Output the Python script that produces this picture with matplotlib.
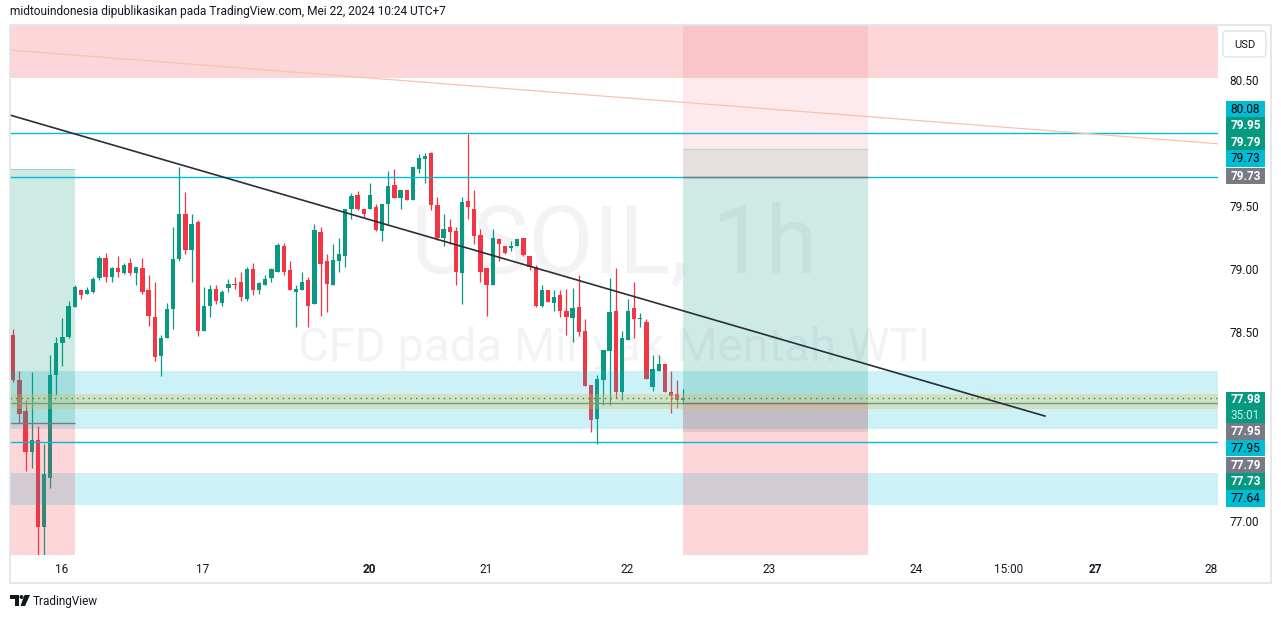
import matplotlib
matplotlib.use('Agg')
import matplotlib.pyplot as plt
import matplotlib.transforms as mtransforms
from matplotlib.patches import Rectangle, FancyBboxPatch, Polygon, Circle
import numpy as np

plt.rcParams['font.family'] = ['Roboto', 'DejaVu Sans']

# USOIL 1h candles
opens = [78.48, 78.12, 77.87, 77.55, 77.64, 76.95, 77.34, 78.16, 78.41, 78.46,
         78.70, 78.83, 78.80, 78.82, 78.93, 79.09, 78.94, 79.01, 78.97, 79.05,
         78.97, 79.01, 78.83, 78.62, 78.31, 78.45, 78.68, 79.08, 79.44, 79.15,
         79.37, 78.51, 78.71, 78.84, 78.73, 78.85, 78.88, 78.90, 78.76, 79.00,
         78.83, 78.87, 78.93, 78.98, 79.18, 78.99, 78.82, 78.83, 78.91, 78.72,
         79.29, 79.06, 78.87, 79.06, 79.10, 79.48, 79.59, 79.48, 79.48, 79.49,
         79.30, 79.52, 79.67, 79.56, 79.63, 79.55, 79.79, 79.87, 79.92, 79.51,
         79.25, 79.33, 79.30, 78.97, 79.54, 79.48, 79.27, 79.01, 78.87, 79.24,
         79.18, 79.17, 79.18, 79.25, 79.10, 79.02, 78.71, 78.83, 78.73, 78.79,
         78.67, 78.61, 78.70, 78.51, 78.08, 77.81, 78.12, 78.35, 78.67, 78.02,
         78.44, 78.69, 78.60, 78.58, 78.06, 78.19, 78.25, 78.02, 78.01, 77.96]
highs = [78.52, 78.19, 77.96, 78.18, 77.75, 77.61, 78.32, 78.46, 78.61, 78.75,
         78.87, 78.83, 78.86, 78.94, 79.10, 79.13, 79.02, 79.10, 79.05, 79.09,
         79.02, 79.09, 78.95, 78.90, 78.48, 78.73, 79.33, 79.81, 79.61, 79.44,
         79.39, 78.86, 78.87, 78.87, 78.83, 78.92, 78.94, 78.98, 79.02, 79.05,
         78.90, 78.95, 79.01, 79.21, 79.21, 79.06, 78.87, 78.98, 78.94, 79.36,
         79.33, 79.12, 79.20, 79.25, 79.48, 79.60, 79.62, 79.48, 79.68, 79.52,
         79.52, 79.78, 79.79, 79.63, 79.63, 79.81, 79.91, 79.92, 79.93, 79.57,
         79.44, 79.40, 79.33, 79.57, 80.07, 79.63, 79.32, 79.01, 79.32, 79.25,
         79.18, 79.22, 79.24, 79.25, 79.10, 79.03, 78.87, 78.83, 78.83, 78.83,
         78.84, 78.85, 78.95, 78.60, 78.08, 78.16, 78.36, 78.93, 79.01, 78.51,
         78.76, 78.90, 78.65, 78.60, 78.32, 78.32, 78.25, 78.19, 78.12, 78.05]
lows = [78.10, 77.78, 77.40, 77.42, 76.70, 76.70, 77.26, 78.00, 78.23, 78.45,
        78.70, 78.76, 78.80, 78.81, 78.91, 78.90, 78.90, 78.94, 78.96, 78.95,
        78.87, 78.80, 78.55, 78.27, 78.15, 78.45, 78.52, 79.06, 79.12, 78.90,
        78.47, 78.51, 78.62, 78.72, 78.71, 78.82, 78.84, 78.75, 78.75, 78.79,
        78.80, 78.87, 78.90, 78.98, 78.95, 78.83, 78.54, 78.83, 78.54, 78.72,
        78.63, 78.66, 78.87, 78.98, 79.02, 79.40, 79.47, 79.41, 79.48, 79.30,
        79.22, 79.36, 79.56, 79.48, 79.55, 79.55, 79.76, 79.68, 79.47, 79.23,
        79.18, 79.20, 78.87, 78.72, 79.40, 79.20, 78.90, 78.63, 78.87, 79.06,
        79.12, 79.14, 79.18, 79.10, 78.99, 78.70, 78.70, 78.74, 78.67, 78.62,
        78.48, 78.42, 78.47, 78.07, 77.71, 77.61, 77.92, 77.92, 77.98, 77.96,
        78.44, 78.45, 78.54, 78.13, 78.03, 78.19, 78.02, 77.86, 77.90, 77.93]
closes = [78.12, 77.85, 77.55, 77.64, 76.95, 77.37, 78.16, 78.41, 78.46, 78.71,
          78.86, 78.79, 78.83, 78.92, 79.09, 78.94, 79.01, 78.98, 79.03, 78.97,
          79.02, 78.82, 78.63, 78.30, 78.45, 78.68, 79.08, 79.44, 79.15, 79.36,
          78.51, 78.71, 78.84, 78.75, 78.82, 78.88, 78.87, 78.78, 79.00, 78.83,
          78.89, 78.92, 79.00, 79.19, 78.98, 78.83, 78.84, 78.90, 78.71, 79.31,
          79.04, 78.88, 79.07, 79.12, 79.48, 79.58, 79.48, 79.44, 79.59, 79.31,
          79.52, 79.66, 79.56, 79.63, 79.55, 79.81, 79.88, 79.90, 79.51, 79.25,
          79.32, 79.29, 78.98, 79.53, 79.49, 79.26, 78.98, 78.87, 79.25, 79.20,
          79.13, 79.18, 79.24, 79.11, 79.02, 78.71, 78.83, 78.74, 78.78, 78.67,
          78.62, 78.69, 78.50, 78.07, 77.80, 78.13, 78.36, 78.66, 78.02, 78.45,
          78.67, 78.60, 78.60, 78.13, 78.21, 78.25, 78.02, 77.99, 77.96, 77.98]

# time axis (bar index positions of the day labels)
tick_pos = [7.92, 30.86, 57.87, 76.9, 99.8, 122.9, 146.8, 161.98, 176.0, 194.8]
tick_labels = ['16', '17', '20', '21', '22', '23', '24', '15:00', '27', '28']
bold_ticks = ['20', '27']
price_ticks = [77.0, 78.5, 79.0, 79.5, 80.5]

# drawings
cyan_lines = [80.08, 79.73, 77.63]
entry_line = 77.94
last_price = 77.98
cyan_zones = [(77.73, 78.19), (77.13, 77.38)]
beige_zone = (77.89, 78.01)
top_zone = (80.52, 81.2)
trend_x = [-0.54, 167.84]
trend_y = [80.222, 77.833]
fan_x = [-0.54, 196.0]
fan_y = [80.738, 79.994]
# left long position: x range, target, entry
left_pos = (-0.54, 10.0, 79.79, 77.78)
# right position box: x range and levels (top stop, entry, bottom, grey band)
right_pos = (108.95, 139.04, 79.95, 79.73, 77.94, 77.71)

# price-scale labels: text, centre price, style
scale_labels = ['80.08', '79.95', '79.79', '79.73', '79.73',
                '77.95', '77.95', '77.79', '77.73', '77.64']
scale_pos = [80.266, 80.137, 80.008, 79.875, 79.737,
             77.712, 77.579, 77.444, 77.312, 77.180]
scale_kind = ['cyan', 'green', 'green', 'cyan', 'grey',
              'grey', 'cyan', 'grey', 'green', 'cyan']

GREEN = '#089981'
RED = '#f23645'
CYAN = '#00bcd4'
GREY = '#787b86'
TXT = '#131722'

W, H = 1281, 619
fig = plt.figure(figsize=(W / 100, H / 100), dpi=100)
ax = fig.add_axes([10 / W, (H - 555) / H, 1208 / W, 530 / H])
ax.set_xlim(-0.54, 196.0)
ax.set_ylim(76.73, 80.937)
for s in ax.spines.values():
    s.set_visible(False)

# watermark
ax.text(0.5, 0.583, 'USOIL, 1h', transform=ax.transAxes, fontsize=68,
        color='#f3f3f5', ha='center', va='center', zorder=1)
ax.text(0.5, 0.39, 'CFD pada Minyak Mentah WTI', transform=ax.transAxes,
        fontsize=34, color='#f3f3f5', ha='center', va='center', zorder=1)

# candles
o = np.array(opens)
h = np.array(highs)
l = np.array(lows)
c = np.array(closes)
idx = np.arange(len(o))
cols = np.where(c >= o, GREEN, RED)
ax.vlines(idx, l, h, colors=cols, lw=0.9, zorder=2)
ax.bar(idx, np.maximum(np.abs(c - o), 0.008), bottom=np.minimum(o, c),
       width=0.7, color=cols, linewidth=0, zorder=3)

# zones
ax.axhspan(top_zone[0], top_zone[1], color=RED, alpha=0.2, lw=0, zorder=4)
for lo, hi in cyan_zones:
    ax.axhspan(lo, hi, color=CYAN, alpha=0.2, lw=0, zorder=4)

# left position
x0, x1, tgt, ent = left_pos
ax.add_patch(Rectangle((x0, ent), x1 - x0, tgt - ent, color=GREEN, alpha=0.2, lw=0, zorder=5))
ax.add_patch(Rectangle((x0, 76.5), x1 - x0, ent - 76.5, color=RED, alpha=0.2, lw=0, zorder=5))
ax.hlines(ent, x0, x1, color=GREY, lw=1, zorder=7)
ax.hlines(tgt, x0, x1, color=GREEN, lw=0.6, alpha=0.3, zorder=7)

# right position
rx0, rx1, stop, r_ent, r_mid, r_low = right_pos
ax.add_patch(Rectangle((rx0, r_ent), rx1 - rx0, 81.5 - r_ent, color=RED, alpha=0.1, lw=0, zorder=5))
ax.add_patch(Rectangle((rx0, r_ent), rx1 - rx0, stop - r_ent, color='#e5e0de', lw=0, zorder=5))
ax.add_patch(Rectangle((rx0, r_mid), rx1 - rx0, r_ent - r_mid, color=GREEN, alpha=0.2, lw=0, zorder=5))
ax.add_patch(Rectangle((rx0, 76.5), rx1 - rx0, r_mid - 76.5, color=RED, alpha=0.2, lw=0, zorder=5))
ax.add_patch(Rectangle((rx0, r_low), rx1 - rx0, r_mid - r_low, color=GREY, alpha=0.18, lw=0, zorder=5))

ax.axhspan(beige_zone[0], beige_zone[1], color='#f1b649', alpha=0.3, lw=0, zorder=6)

# lines
for y in cyan_lines:
    ax.axhline(y, color=CYAN, lw=1, zorder=7)
ax.axhline(entry_line, color='#4fa898', lw=1, zorder=7)
ax.axhline(last_price, color=GREEN, lw=1, ls=(0, (1, 3)), zorder=7)
ax.hlines([r_ent, r_mid], rx0, rx1, color=GREY, lw=1, zorder=7)
ax.hlines(stop, rx0, rx1, color='#cfcfcf', lw=1, zorder=7)
ax.plot(trend_x, trend_y, color='#2a2e39', lw=1.2, zorder=8)
ax.plot(fan_x, fan_y, color='#f7c4ae', lw=0.9, zorder=8)

# axes ticks
ax.yaxis.tick_right()
ax.set_yticks(price_ticks, ['%.2f' % p for p in price_ticks])
ax.tick_params(axis='y', length=0, pad=8, labelsize=8.5, labelcolor=TXT)
ax.set_xticks(tick_pos, tick_labels)
ax.tick_params(axis='x', length=0, pad=6, labelsize=8.5, labelcolor=TXT)
for lbl in ax.get_xticklabels():
    if lbl.get_text() in bold_ticks:
        lbl.set_fontweight('bold')

# price scale labels
tr = mtransforms.blended_transform_factory(ax.transAxes, ax.transData)
bx = (1226 - 10) / 1208
bw = 39 / 1208
bh = 16.6 / 126
kind_style = {'cyan': (CYAN, 'black', 'normal'),
              'green': (GREEN, 'white', 'bold'),
              'grey': (GREY, 'white', 'bold')}
for txt, yp, kind in zip(scale_labels, scale_pos, scale_kind):
    fc, tc, fw = kind_style[kind]
    ax.add_patch(Rectangle((bx, yp - bh / 2), bw, bh, transform=tr, color=fc,
                           lw=0, clip_on=False, zorder=10))
    ax.text(bx + bw / 2, yp, txt, transform=tr, ha='center', va='center',
            fontsize=8.5, color=tc, fontweight=fw, clip_on=False, zorder=11)
# last price with countdown
ax.add_patch(Rectangle((bx, 77.899 - 31.3 / 252), bw, 31.3 / 126, transform=tr,
                       color=GREEN, lw=0, clip_on=False, zorder=10))
ax.text(bx + bw / 2, 77.968, '%.2f' % last_price, transform=tr, ha='center', va='center',
        fontsize=8.5, color='white', fontweight='bold', clip_on=False, zorder=11)
ax.text(bx + bw / 2, 77.838, '35:01', transform=tr, ha='center', va='center',
        fontsize=8.5, color='#c9eee6', clip_on=False, zorder=11)

# overlay in pixel coordinates: frame, header, USD box, logo
ov = fig.add_axes([0, 0, 1, 1])
ov.set_xlim(0, W)
ov.set_ylim(H, 0)
ov.axis('off')
ov.patch.set_alpha(0)
ov.add_patch(Rectangle((10, 25), 1261, 558, fill=False, ec='#e0e3eb', lw=1.2))
ov.text(10, 12, 'midtouindonesia dipublikasikan pada TradingView.com, Mei 22, 2024 10:24 UTC+7',
        fontsize=8.6, va='center', ha='left', color=TXT)
ov.add_patch(FancyBboxPatch((1223, 31), 43, 26, boxstyle='round,pad=0,rounding_size=4',
                            ec='#e0e3eb', fc='white', lw=1))
ov.text(1244.5, 44.5, 'USD', fontsize=8, ha='center', va='center', color=TXT)
ov.add_patch(Polygon([(10, 595), (19, 595), (19, 606), (15, 606), (15, 599), (10, 599)],
                     closed=True, color=TXT, lw=0))
ov.add_patch(Circle((21.5, 597), 2, color=TXT, lw=0))
ov.add_patch(Polygon([(24.5, 595), (30, 595), (25, 606), (20.5, 606)], closed=True, color=TXT, lw=0))
ov.text(33, 601, 'TradingView', fontsize=8.5, ha='left', va='center', color=TXT)

fig.savefig('out.png', dpi=100, facecolor='white')
